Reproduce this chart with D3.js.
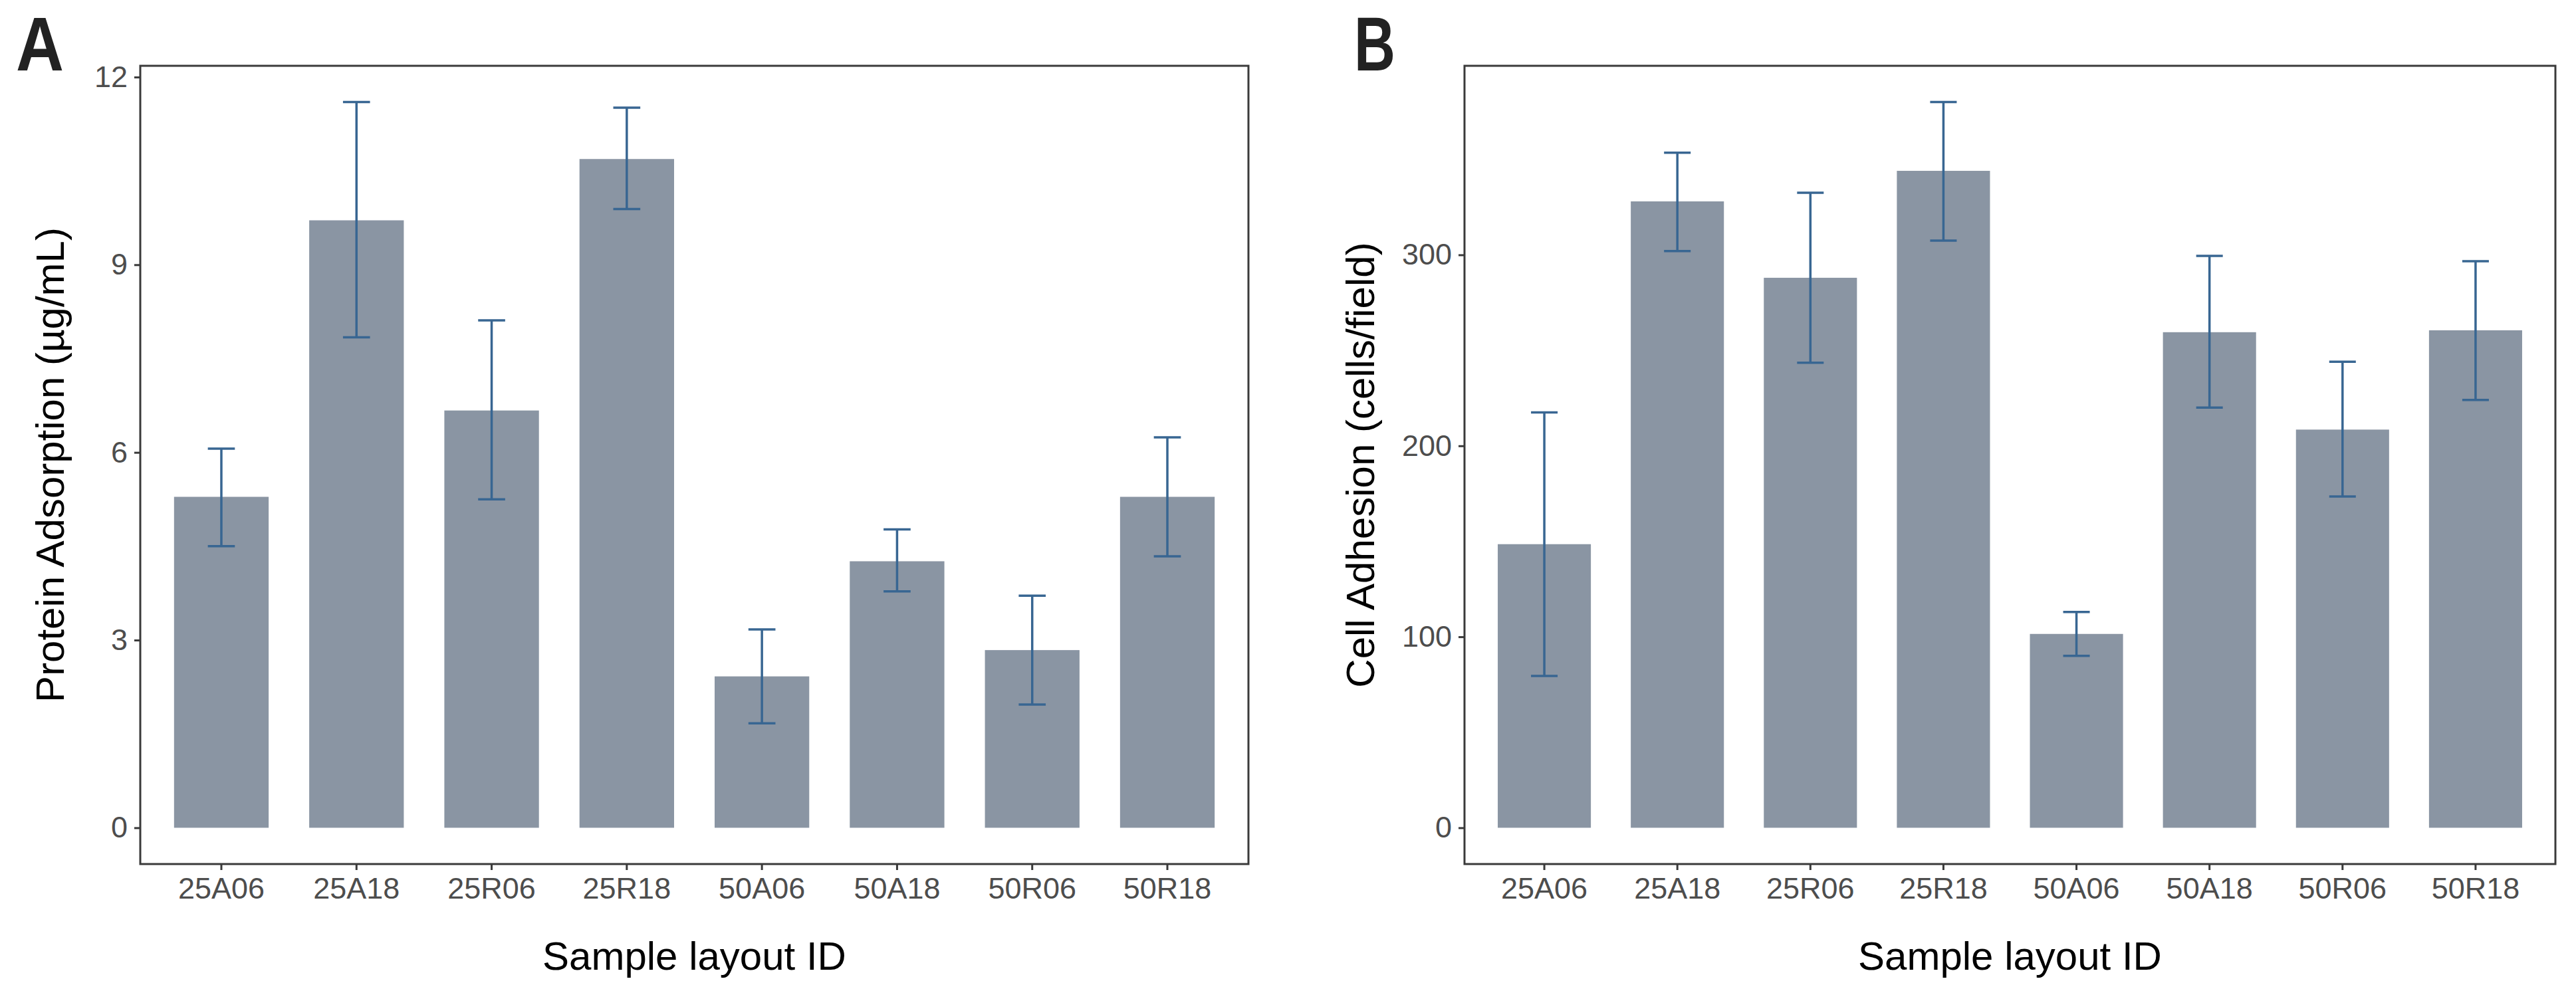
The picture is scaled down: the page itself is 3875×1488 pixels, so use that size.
<!DOCTYPE html>
<html>
<head>
<meta charset="utf-8">
<script src="https://cdn.jsdelivr.net/npm/d3@7"></script>
<style>
  body { margin: 0; background: #fff; }
  text { font-family: "Liberation Sans", Arial, sans-serif; }
</style>
</head>
<body>
<script>
// sample layouts on the x axis
var samples = ["25A06", "25A18", "25R06", "25R18", "50A06", "50A18", "50R06", "50R18"];

// panel A: protein adsorption, mean and upper/lower error ends
var protein_mean  = [5.29, 9.71, 6.67, 10.69, 2.42, 4.26, 2.84, 5.29];
var protein_upper = [6.06, 11.60, 8.11, 11.51, 3.17, 4.77, 3.71, 6.24];
var protein_lower = [4.50, 7.84, 5.25, 9.89, 1.67, 3.78, 1.97, 4.34];
var protein_ticks = [0, 3, 6, 9, 12];

// panel B: cell adhesion
var adhesion_mean  = [148.5, 328, 288, 344, 101.5, 259.5, 208.5, 260.5];
var adhesion_upper = [217.5, 353.5, 332.5, 380, 113, 299.5, 244, 296.7];
var adhesion_lower = [79.5, 302, 243.5, 307.5, 90, 220, 173.5, 224];
var adhesion_ticks = [0, 100, 200, 300];

var width = 3875,
    height = 1488;

var svg = d3.select("body").append("svg")
    .attr("width", width)
    .attr("height", height);

var barColor = "#8a95a3",
    errColor = "#386692",
    frameColor = "#3a3a3a";

function drawPanel(opt) {
    var rows = samples.map(function (s, i) {
        return {id: s, mean: opt.mean[i], hi: opt.upper[i], lo: opt.lower[i]};
    });

    var x = d3.scaleBand()
        .domain(samples)
        .range([opt.left, opt.right])
        .paddingInner(0.3)
        .paddingOuter(0.25);

    // ggplot style 5% expansion around 0..max
    var top = d3.max(rows, function (d) { return d.hi; });
    var y = d3.scaleLinear()
        .domain([-0.05 * top, 1.05 * top])
        .range([opt.bottom, opt.top]);

    var g = svg.append("g");

    g.selectAll(".bar")
        .data(rows)
        .enter()
        .append("rect")
        .attr("class", "bar")
        .attr("x", function (d) { return x(d.id); })
        .attr("width", x.bandwidth())
        .attr("y", function (d) { return y(d.mean); })
        .attr("height", function (d) { return y(0) - y(d.mean); })
        .attr("fill", barColor);

    var capW = x.step() * 0.2;
    var err = g.selectAll(".err")
        .data(rows)
        .enter()
        .append("g")
        .attr("class", "err")
        .attr("stroke", errColor)
        .attr("stroke-width", 3.5)
        .attr("transform", function (d) { return "translate(" + (x(d.id) + x.bandwidth() / 2) + ",0)"; });

    err.append("line")
        .attr("y1", function (d) { return y(d.lo); })
        .attr("y2", function (d) { return y(d.hi); });
    err.append("line")
        .attr("x1", -capW / 2).attr("x2", capW / 2)
        .attr("y1", function (d) { return y(d.hi); })
        .attr("y2", function (d) { return y(d.hi); });
    err.append("line")
        .attr("x1", -capW / 2).attr("x2", capW / 2)
        .attr("y1", function (d) { return y(d.lo); })
        .attr("y2", function (d) { return y(d.lo); });

    // frame
    g.append("rect")
        .attr("x", opt.left)
        .attr("y", opt.top)
        .attr("width", opt.right - opt.left)
        .attr("height", opt.bottom - opt.top)
        .attr("fill", "none")
        .attr("stroke", frameColor)
        .attr("stroke-width", 3);

    var yAxis = g.append("g")
        .attr("transform", "translate(" + opt.left + ",0)")
        .call(d3.axisLeft(y).tickValues(opt.ticks).tickSize(9).tickPadding(10));

    var xAxis = g.append("g")
        .attr("transform", "translate(0," + opt.bottom + ")")
        .call(d3.axisBottom(x).tickSize(9).tickPadding(11));

    [yAxis, xAxis].forEach(function (a) {
        a.select(".domain").remove();
        a.selectAll(".tick line").attr("stroke", frameColor).attr("stroke-width", 3);
        a.selectAll(".tick text")
            .attr("fill", "#4d4d4d")
            .style("font-size", "45px");
    });

    // axis titles
    g.append("text")
        .attr("x", (opt.left + opt.right) / 2)
        .attr("y", 1459)
        .attr("text-anchor", "middle")
        .style("font-size", "60px")
        .attr("fill", "#000")
        .text("Sample layout ID");

    g.append("text")
        .attr("transform", "translate(" + opt.titleX + "," + ((opt.top + opt.bottom) / 2) + ") rotate(-90)")
        .attr("text-anchor", "middle")
        .style("font-size", "60px")
        .attr("fill", "#000")
        .text(opt.ylabel);

    // panel letter
    g.append("text")
        .attr("x", opt.letterX)
        .attr("y", 106)
        .attr("textLength", opt.letterW)
        .attr("lengthAdjust", "spacingAndGlyphs")
        .style("font-size", "115px")
        .style("font-weight", "bold")
        .style("font-family", "'Liberation Sans Narrow', 'Liberation Sans', Arial, sans-serif")
        .attr("fill", "#222")
        .text(opt.letter);
}

drawPanel({
    left: 211, right: 1878, top: 99, bottom: 1300,
    mean: protein_mean, upper: protein_upper, lower: protein_lower,
    ticks: protein_ticks,
    ylabel: "Protein Adsorption (\u00b5g/mL)",
    titleX: 96,
    letter: "A", letterX: 24, letterW: 72
});

drawPanel({
    left: 2203, right: 3844, top: 99, bottom: 1300,
    mean: adhesion_mean, upper: adhesion_upper, lower: adhesion_lower,
    ticks: adhesion_ticks,
    ylabel: "Cell Adhesion (cells/field)",
    titleX: 2067,
    letter: "B", letterX: 2037, letterW: 62
});
</script>
</body>
</html>
